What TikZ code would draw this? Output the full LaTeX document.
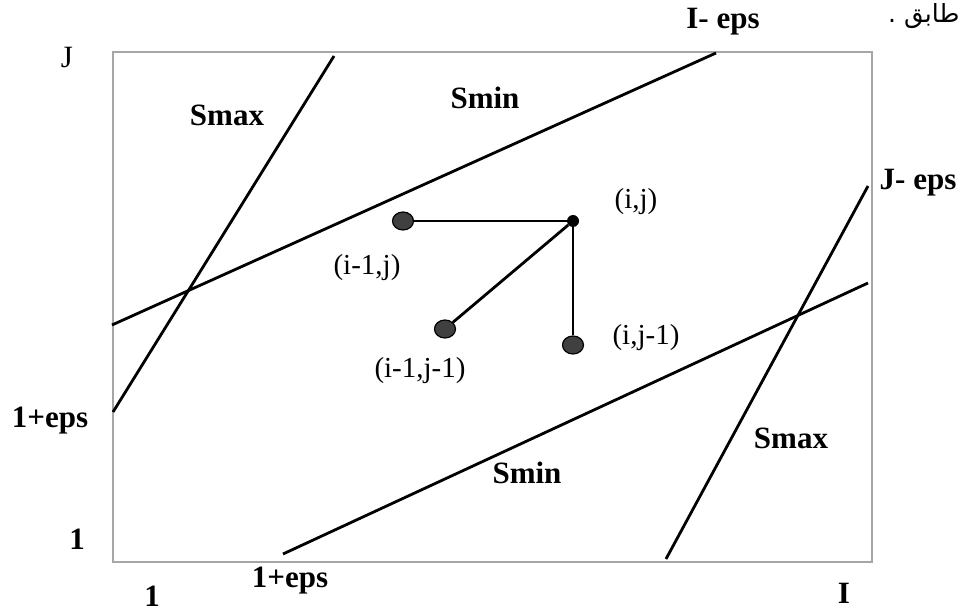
\documentclass[tikz,border=0pt]{standalone}
\usepackage{fontspec}
\setmainfont{Liberation Serif}
\newfontfamily\arabicfont[Script=Arabic]{DejaVu Sans}
\TeXXeTstate=1
\usetikzlibrary{shapes.geometric}

\begin{document}
\begin{tikzpicture}[
    x=1pt, y=-1pt,
    every node/.style={inner sep=0pt, align=center},
    axislbl/.style={font=\fontsize{31}{36}\selectfont\bfseries},
    thinlbl/.style={font=\fontsize{31}{36}\selectfont},
    region/.style={font=\fontsize{31}{36}\selectfont\bfseries},
    cell/.style={font=\fontsize{29}{34}\selectfont},
    dot/.style={ellipse, draw=black, line width=1.2pt, fill=black!75, minimum width=21pt, minimum height=18pt},
    cur/.style={circle, fill=black, minimum size=12pt},
    bound/.style={line width=2.8pt},
    link/.style={line width=2.8pt},
]
\useasboundingbox (0,0) rectangle (962,612);

% --- Frame ---
\draw[gray!70, line width=1.5pt] (113,52) rectangle (872,562);

% --- Axis labels ---
\node[thinlbl]  (Jtop)   at (67,58)   {J};
\node[axislbl]  (Ieps)   at (723,22)  {I- eps};
\node[axislbl]  (Jeps)   at (918,183) {J- eps};
\node[axislbl]  (onepl)  at (50,421)  {1+eps};
\node[axislbl]  (oneL)   at (77,539)  {1};
\node[axislbl]  (oneB)   at (152,596) {1};
\node[axislbl]  (onepb)  at (290,581) {1+eps};
\node[axislbl]  (Ibot)   at (844,593) {I};
\node[anchor=west, font=\arabicfont\fontsize{25}{30}\selectfont] (note) at (888,16) {\beginR طابق .\endR};

% --- Band limits ---
\coordinate (smaxUtop) at (334,56);
\coordinate (smaxUbot) at (113,412);
\coordinate (sminUlft) at (112,325);
\coordinate (sminUrgt) at (716,53);
\coordinate (sminDlft) at (283,554);
\coordinate (sminDrgt) at (868,283);
\coordinate (smaxDbot) at (666,559);
\coordinate (smaxDtop) at (868,186);

\draw[bound] (smaxUtop) -- (smaxUbot);
\draw[bound] (sminUlft) -- (sminUrgt);
\draw[bound] (sminDlft) -- (sminDrgt);
\draw[bound] (smaxDbot) -- (smaxDtop);

% --- Region names ---
\node[region] (smaxU) at (227,115) {Smax};
\node[region] (sminU) at (485,98)  {Smin};
\node[region] (sminD) at (527,473) {Smin};
\node[region] (smaxD) at (791,438) {Smax};

% --- Cells ---
\node[cur] (ij)     at (573,221) {};
\node[dot] (im1j)   at (403,221) {};
\node[dot] (im1jm1) at (445,329) {};
\node[dot] (ijm1)   at (573,345) {};

\draw[link] (ij) -- (im1j);
\draw[link] (ij) -- (im1jm1);
\draw[link] (ij) -- (ijm1);

\node[cell] (lij)     at (636,202) {(i,j)};
\node[cell] (lim1j)   at (367,268) {(i-1,j)};
\node[cell] (lim1jm1) at (420,371) {(i-1,j-1)};
\node[cell] (lijm1)   at (646,338) {(i,j-1)};

\end{tikzpicture}
\end{document}
